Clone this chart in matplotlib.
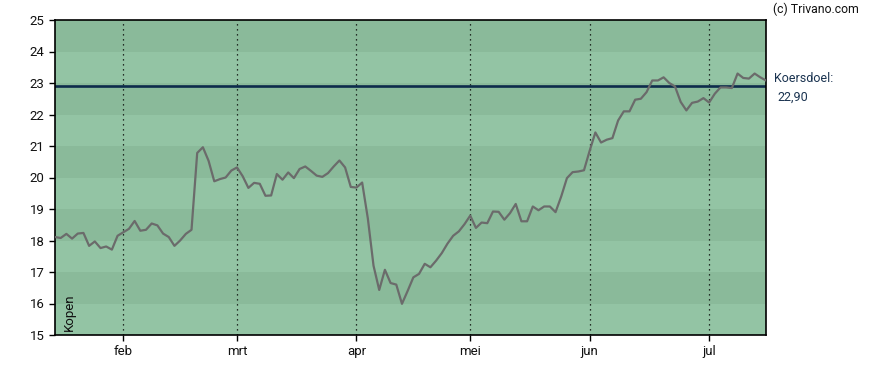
import matplotlib
matplotlib.use("Agg")
import matplotlib.pyplot as plt
import numpy as np
import pandas as pd

plt.rcParams["font.family"] = ["Roboto", "DejaVu Sans"]

# trading days Jan 16 - Jul 15 2025 (Euronext holidays removed)
HOLIDAYS = ["2025-04-18", "2025-04-21", "2025-05-01"]
dates = pd.bdate_range("2025-01-16", "2025-07-15")
dates = dates[~dates.isin(pd.to_datetime(HOLIDAYS))]

closes = [
    18.11, 18.08, 18.21, 18.06, 18.22, 18.24, 17.83, 17.97, 17.76, 17.81,
    17.71, 18.15, 18.26, 18.37, 18.62, 18.31, 18.34, 18.54, 18.48, 18.22,
    18.11, 17.83, 18.00, 18.21, 18.34, 20.78, 20.96, 20.53, 19.88, 19.95,
    20.00, 20.22, 20.32, 20.04, 19.67, 19.83, 19.80, 19.42, 19.43, 20.11,
    19.93, 20.16, 19.98, 20.27, 20.35, 20.21, 20.06, 20.02, 20.14, 20.35,
    20.54, 20.32, 19.70, 19.68, 19.84, 18.70, 17.20, 16.43, 17.07, 16.65,
    16.60, 15.99, 16.40, 16.83, 16.94, 17.26, 17.15, 17.36, 17.60, 17.90,
    18.15, 18.29, 18.52, 18.79, 18.40, 18.57, 18.55, 18.92, 18.91, 18.66,
    18.87, 19.16, 18.61, 18.61, 19.08, 18.96, 19.08, 19.08, 18.90, 19.40,
    19.98, 20.17, 20.19, 20.23, 20.85, 21.43, 21.11, 21.20, 21.25, 21.81,
    22.10, 22.10, 22.47, 22.50, 22.71, 23.08, 23.08, 23.18, 23.00, 22.89,
    22.40, 22.13, 22.37, 22.41, 22.52, 22.38, 22.66, 22.86, 22.86, 22.84,
    23.30, 23.16, 23.14, 23.30, 23.18, 23.08,
]
target = 22.90
month_labels = ["feb", "mrt", "apr", "mei", "jun", "jul"]
y_ticks = list(range(15, 26))

DARK_BAND = "#8aba9a"
LIGHT_BAND = "#93c4a4"

fig = plt.figure(figsize=(8.88, 3.70), dpi=100)
ax = fig.add_axes([55 / 888, 1 - 335 / 370, 711 / 888, 315 / 370])

x = np.arange(len(closes))
ax.set_xlim(0, len(closes) - 1)
ax.set_ylim(15, 25)

# alternating horizontal bands
for lo in range(15, 25):
    ax.axhspan(lo, lo + 1, color=DARK_BAND if (25 - lo) % 2 == 1 else LIGHT_BAND,
               lw=0, zorder=0)

# month ticks at first trading day of each month
month_pos = [int(np.argmax(dates.month == m)) for m in range(2, 8)]
ax.set_xticks(month_pos)
ax.set_xticklabels(month_labels)
for p in month_pos:
    ax.axvline(p, color="black", lw=0.9, ls=(0, (1, 3)), zorder=1)

ax.axhline(target, color="#0d2b4b", lw=1.9, zorder=2)
ax.plot(x, closes, color="#6b6b6b", lw=1.6, zorder=3)

ax.set_yticks(y_ticks)
ax.tick_params(axis="both", labelsize=9.5, length=4, width=1, colors="black",
               labelcolor="#111111")
for s in ax.spines.values():
    s.set_linewidth(1.2)

ax.text(0.011, 0.012, "Kopen", rotation=90, transform=ax.transAxes,
        ha="left", va="bottom", fontsize=9.5, color="#111111")

fig.text(773 / 888, 1 - 9 / 370, "(c) Trivano.com", ha="left", va="center",
         fontsize=8.8, color="#111111")
fig.text(774 / 888, 1 - 78 / 370, "Koersdoel:", ha="left", va="center",
         fontsize=9, color="#1a3350")
fig.text(777 / 888, 1 - 97 / 370, f"{target:.2f}".replace(".", ","), ha="left",
         va="center", fontsize=9, color="#1a3350")

fig.savefig("out.png", dpi=100)
